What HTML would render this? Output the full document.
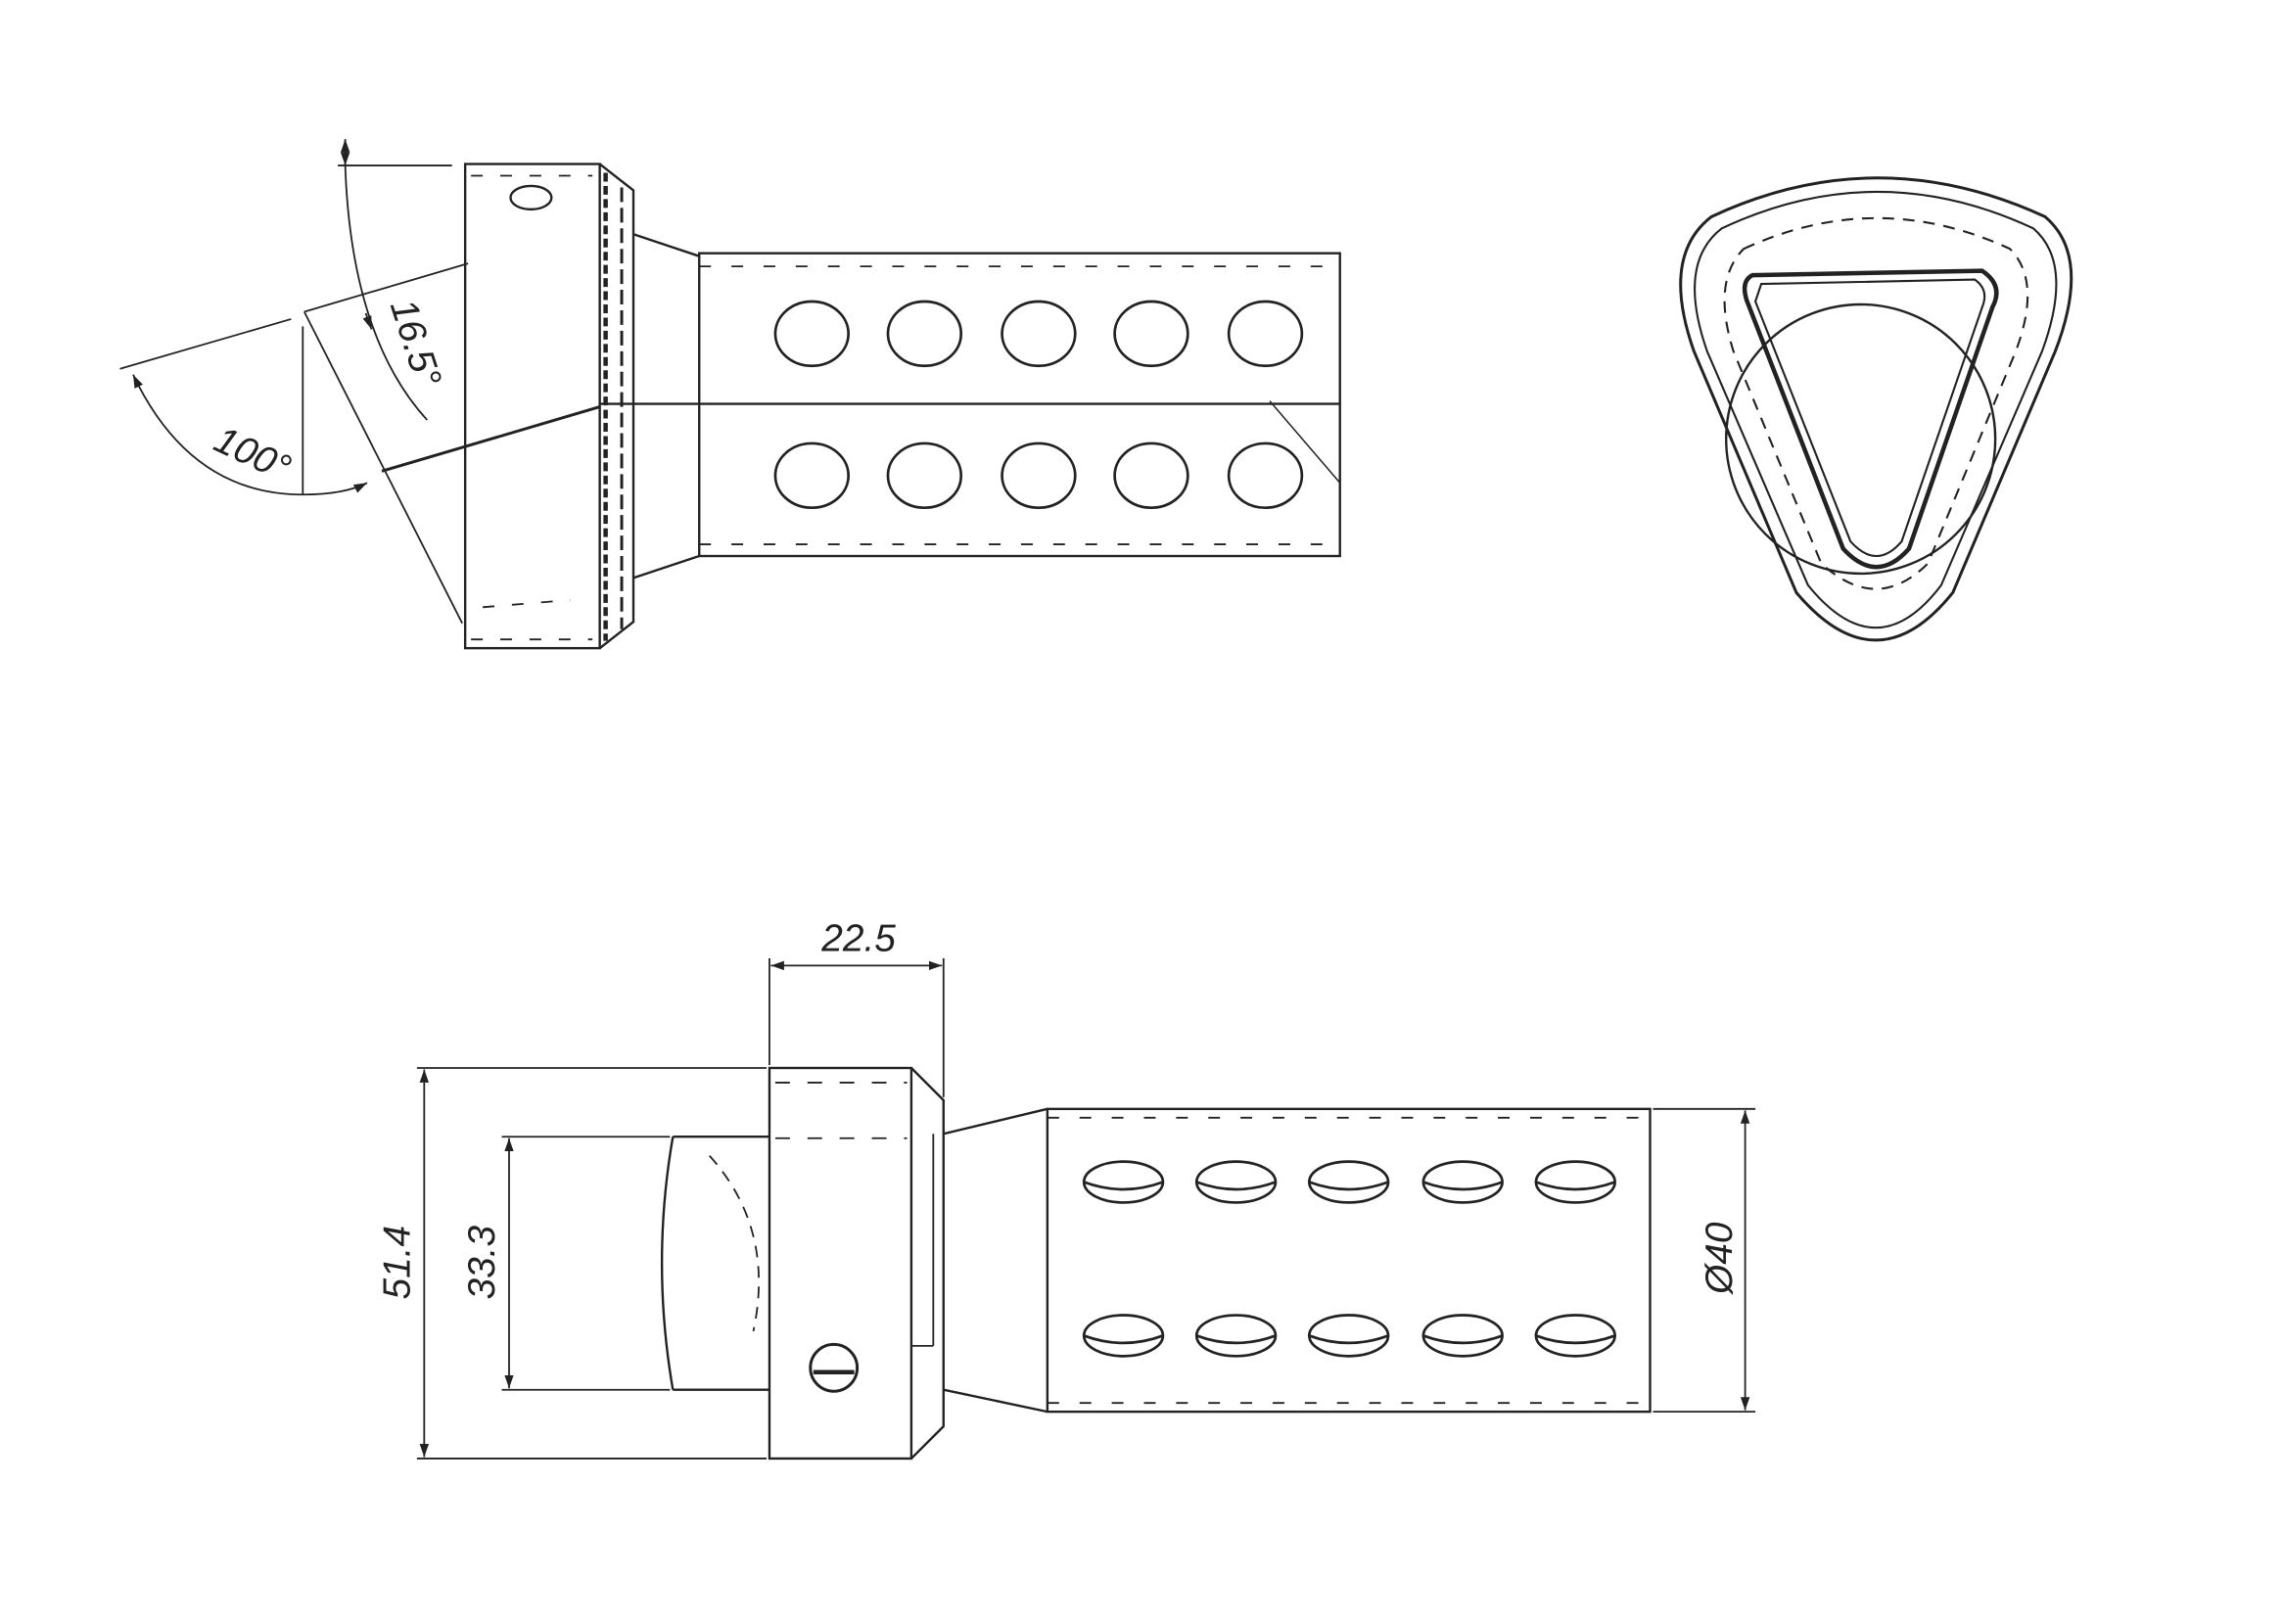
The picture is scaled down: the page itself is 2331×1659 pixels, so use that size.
<!DOCTYPE html>
<html><head><style>html,body{margin:0;padding:0;background:#fff}svg{display:block}</style></head>
<body>
<svg width="2331" height="1659" viewBox="0 0 1560 1110" xmlns="http://www.w3.org/2000/svg" font-family="Liberation Sans, sans-serif">
<defs>
<marker id="a" viewBox="0 0 10 10" refX="10" refY="5" markerWidth="9" markerHeight="9" orient="auto-start-reverse" markerUnits="userSpaceOnUse"><path d="M0,1.5 L10,5 L0,8.5z" fill="#222"/></marker>
</defs>
<g stroke="#222" fill="none" stroke-width="1.6">
<!-- TOP VIEW -->
<rect x="318" y="112" width="92" height="331"/>
<polyline points="410,112 433,130 433,425 410,443"/>
<line x1="414" y1="118" x2="414" y2="438" stroke-width="3" stroke-dasharray="6 3"/>
<line x1="425" y1="128" x2="425" y2="430" stroke-width="2" stroke-dasharray="10 4"/>
<line x1="433" y1="160" x2="478" y2="175"/>
<line x1="433" y1="395" x2="478" y2="380"/>
<rect x="478" y="173" width="438" height="207"/>
<line x1="478" y1="182" x2="916" y2="182" stroke-dasharray="8 14" stroke-width="1.2"/>
<line x1="478" y1="372" x2="916" y2="372" stroke-dasharray="8 14" stroke-width="1.2"/>
<line x1="410" y1="276" x2="916" y2="276"/>
<line x1="868" y1="274" x2="916" y2="330" stroke-width="1"/>
<g stroke-width="1.8">
<ellipse cx="555" cy="228" rx="25" ry="22"/><ellipse cx="632" cy="228" rx="25" ry="22"/><ellipse cx="710" cy="228" rx="25" ry="22"/><ellipse cx="787" cy="228" rx="25" ry="22"/><ellipse cx="865" cy="228" rx="25" ry="22"/>
<ellipse cx="555" cy="325" rx="25" ry="22"/><ellipse cx="632" cy="325" rx="25" ry="22"/><ellipse cx="710" cy="325" rx="25" ry="22"/><ellipse cx="787" cy="325" rx="25" ry="22"/><ellipse cx="865" cy="325" rx="25" ry="22"/>
</g>
<ellipse cx="363" cy="135" rx="14" ry="8"/>
<g stroke-width="1.2" stroke-dasharray="8 12">
<line x1="322" y1="120" x2="405" y2="120"/><line x1="322" y1="437" x2="405" y2="437"/>
<line x1="330" y1="415" x2="390" y2="410"/>
</g>
<!-- angle dims -->
<line x1="231" y1="113" x2="309" y2="113" stroke-width="1.2"/>
<path d="M236,95 L236,113 Q240,230 292,287" stroke-width="1.2" marker-start="url(#a)"/>
<line x1="236" y1="96" x2="236" y2="113" stroke-width="1.2" marker-end="url(#a)"/>
<line x1="208" y1="213" x2="320" y2="180" stroke-width="1.2"/>
<line x1="208" y1="213" x2="316" y2="426" stroke-width="1.2"/>
<line x1="207" y1="223" x2="207" y2="338" stroke-width="1.2"/>
<line x1="82" y1="252" x2="199" y2="218" stroke-width="1.2"/>
<path d="M91,256 Q130,338 207,338 Q235,338 251,330" stroke-width="1.2" marker-start="url(#a)" marker-end="url(#a)"/>
<path d="M254,225 L250,214" stroke-width="1.2" marker-start="url(#a)"/>
<line x1="261" y1="322" x2="410" y2="278" stroke-width="2"/>
<!-- RIGHT VIEW -->
<path d="M1170,148 Q1283,95 1398,148 Q1430,175 1405,240 L1335,405 Q1283,470 1228,405 L1158,240 Q1135,175 1170,148 Z" stroke-width="2"/>
<path d="M1177,156 Q1283,106 1390,156 Q1418,180 1396,240 L1327,400 Q1283,458 1236,400 L1167,240 Q1146,180 1177,156 Z" stroke-width="1.4"/>
<path d="M1192,170 Q1283,128 1374,170 Q1396,192 1378,240 L1318,385 Q1283,420 1245,385 L1185,240 Q1170,192 1192,170 Z" stroke-width="1.4" stroke-dasharray="8 6"/>
<path d="M1198,188 L1355,185 Q1370,195 1362,210 L1305,375 Q1283,400 1260,375 L1194,205 Q1190,192 1198,188 Z" stroke-width="3"/>
<path d="M1204,194 L1350,191 Q1360,198 1355,210 L1300,370 Q1283,390 1265,370 L1200,206 Z" stroke-width="1.4"/>
<circle cx="1272" cy="300" r="92" stroke-width="1.6"/>
<!-- BOTTOM VIEW -->
<rect x="526" y="730" width="97" height="267"/>
<polyline points="623,730 645,752 645,975 623,997"/>
<line x1="638" y1="775" x2="638" y2="920" stroke-width="1.2"/>
<line x1="623" y1="920" x2="638" y2="920" stroke-width="1.2"/>
<line x1="530" y1="740" x2="620" y2="740" stroke-dasharray="10 12" stroke-width="1.2"/>
<line x1="530" y1="778" x2="620" y2="778" stroke-dasharray="10 12" stroke-width="1.2"/>
<path d="M460,777 L526,777 M460,950 L526,950 M460,777 Q445,863 460,950" />
<path d="M485,790 Q530,840 515,910" stroke-dasharray="8 6" stroke-width="1.2"/>
<line x1="645" y1="775" x2="716" y2="758"/>
<line x1="645" y1="950" x2="716" y2="965"/>
<rect x="716" y="758" width="412" height="207"/>
<line x1="716" y1="764" x2="1128" y2="764" stroke-dasharray="8 14" stroke-width="1.2"/>
<line x1="716" y1="959" x2="1128" y2="959" stroke-dasharray="8 14" stroke-width="1.2"/>
<g stroke-width="1.8">
<path d="M741,808 A27,14 0 0 1 795,808 Q768,818 741,808 A27,14 0 0 0 795,808"/>
<path d="M818,808 A27,14 0 0 1 872,808 Q845,818 818,808 A27,14 0 0 0 872,808"/>
<path d="M895,808 A27,14 0 0 1 949,808 Q922,818 895,808 A27,14 0 0 0 949,808"/>
<path d="M973,808 A27,14 0 0 1 1027,808 Q1000,818 973,808 A27,14 0 0 0 1027,808"/>
<path d="M1050,808 A27,14 0 0 1 1104,808 Q1077,818 1050,808 A27,14 0 0 0 1104,808"/>
<path d="M741,913 A27,14 0 0 1 795,913 Q768,923 741,913 A27,14 0 0 0 795,913"/>
<path d="M818,913 A27,14 0 0 1 872,913 Q845,923 818,913 A27,14 0 0 0 872,913"/>
<path d="M895,913 A27,14 0 0 1 949,913 Q922,923 895,913 A27,14 0 0 0 949,913"/>
<path d="M973,913 A27,14 0 0 1 1027,913 Q1000,923 973,913 A27,14 0 0 0 1027,913"/>
<path d="M1050,913 A27,14 0 0 1 1104,913 Q1077,923 1050,913 A27,14 0 0 0 1104,913"/>
</g>
<circle cx="570" cy="935" r="16" stroke-width="2"/>
<line x1="556" y1="938" x2="584" y2="938" stroke-width="3"/>
<!-- dims -->
<g stroke-width="1.2">
<line x1="526" y1="655" x2="526" y2="728"/><line x1="645" y1="655" x2="645" y2="750"/>
<line x1="527" y1="660" x2="644" y2="660" marker-start="url(#a)" marker-end="url(#a)"/>
<line x1="285" y1="730" x2="524" y2="730"/><line x1="285" y1="997" x2="524" y2="997"/>
<line x1="290" y1="731" x2="290" y2="996" marker-start="url(#a)" marker-end="url(#a)"/>
<line x1="343" y1="777" x2="458" y2="777"/><line x1="343" y1="950" x2="458" y2="950"/>
<line x1="348" y1="778" x2="348" y2="949" marker-start="url(#a)" marker-end="url(#a)"/>
<line x1="1130" y1="758" x2="1200" y2="758"/><line x1="1130" y1="965" x2="1200" y2="965"/>
<line x1="1193" y1="759" x2="1193" y2="964" marker-start="url(#a)" marker-end="url(#a)"/>
</g>
</g>
<g fill="#222" font-size="26" font-style="italic">
<text x="587" y="650" text-anchor="middle">22.5</text>
<text transform="translate(280,863) rotate(-90)" text-anchor="middle">51.4</text>
<text transform="translate(338,863) rotate(-90)" text-anchor="middle">33.3</text>
<text transform="translate(1184,860) rotate(-90)" text-anchor="middle">Ø40</text>
<text transform="translate(169,318) rotate(25)" text-anchor="middle">100°</text>
<text transform="translate(276,237) rotate(72)" text-anchor="middle">16.5°</text>
</g>
</svg>
</body></html>
